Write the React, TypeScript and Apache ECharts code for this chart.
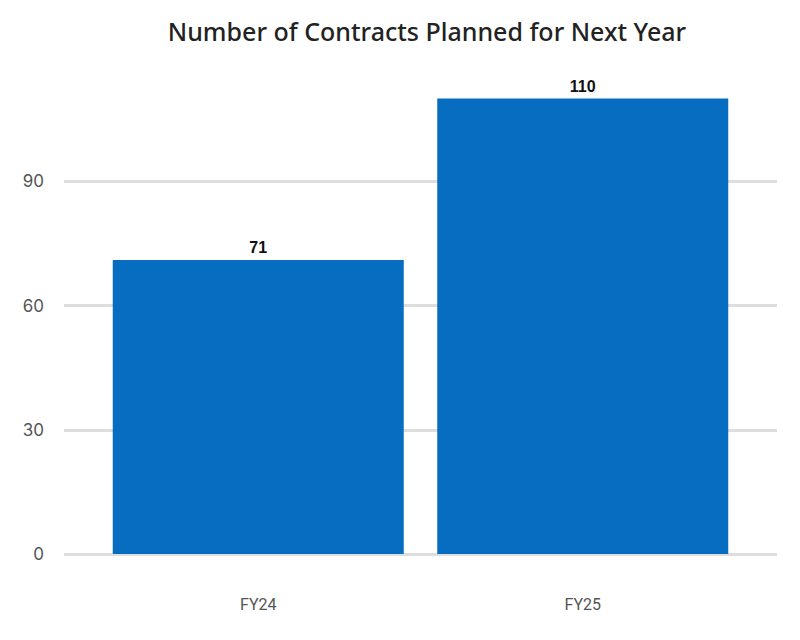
import { useEffect, useRef } from "react";
import * as echarts from "echarts";

const categories = ["FY24", "FY25"];
const contracts = [71, 110];
const yTicks = [0, 30, 60, 90, 120];

const TITLE = "Number of Contracts Planned for Next Year";

export default function App() {
  const ref = useRef<HTMLDivElement | null>(null);

  useEffect(() => {
    if (!ref.current) return;
    const chart = echarts.init(ref.current, undefined, { renderer: "svg" });

    const yMax = yTicks[yTicks.length - 1];
    const yStep = yTicks[1] - yTicks[0];

    chart.setOption({
      animation: false,
      backgroundColor: "#ffffff",
      title: {
        text: TITLE,
        left: 422,
        textAlign: "center",
        top: 13,
        textStyle: {
          fontFamily: "Noto Sans",
          fontWeight: 500,
          fontSize: 25,
          color: "#222222"
        }
      },
      grid: [
        // wide grid: split lines + y labels
        { left: 64, right: 23, top: 57, bottom: 86 },
        // inner grid: the bars
        { left: 96, right: 55, top: 57, bottom: 86 }
      ],
      xAxis: [
        { gridIndex: 0, type: "value", show: false, min: 0, max: 1 },
        {
          gridIndex: 1,
          type: "category",
          data: categories,
          axisLine: { show: false },
          axisTick: { show: false },
          axisLabel: {
            margin: 42,
            color: "#555555",
            fontSize: 16,
            fontFamily: "Roboto"
          }
        }
      ],
      yAxis: [
        {
          gridIndex: 0,
          type: "value",
          min: 0,
          max: yMax,
          interval: yStep,
          axisLine: { show: false },
          axisTick: { show: false },
          axisLabel: {
            showMaxLabel: false,
            margin: 20,
            color: "#555555",
            fontSize: 17,
            fontFamily: "Inter"
          },
          splitLine: {
            show: true,
            showMaxLine: false,
            lineStyle: { color: "#dedede", width: 3 }
          }
        },
        {
          gridIndex: 1,
          type: "value",
          min: 0,
          max: yMax,
          interval: yStep,
          show: false,
          splitLine: { show: false }
        }
      ],
      series: [
        {
          type: "bar",
          xAxisIndex: 1,
          yAxisIndex: 1,
          data: contracts,
          barWidth: 291,
          itemStyle: { color: "#076dc0" },
          label: {
            show: true,
            position: "top",
            distance: 4,
            color: "#111111",
            fontWeight: "bold",
            fontSize: 16,
            fontFamily: "Liberation Sans"
          }
        }
      ]
    });

    return () => {
      chart.dispose();
    };
  }, []);

  return (
    <div
      ref={ref}
      style={{ position: "fixed", left: 0, top: 0, width: 800, height: 640 }}
    />
  );
}
